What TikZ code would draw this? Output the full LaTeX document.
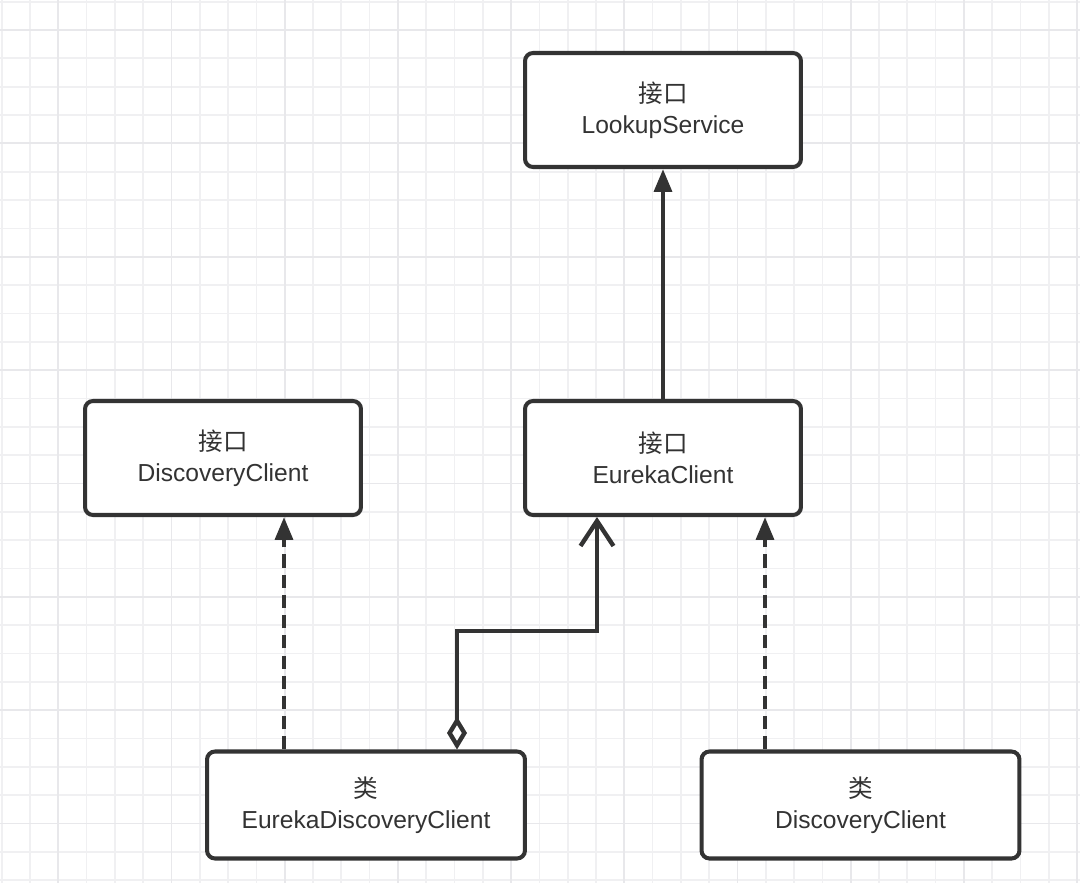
\documentclass[tikz,border=0pt]{standalone}
\usepackage{fontspec}
\setmainfont{Liberation Sans}
\newfontfamily\cjk{Noto Sans CJK SC}
\usepackage{tikz}
\usetikzlibrary{arrows.meta,calc}

\definecolor{umlline}{HTML}{333333}
\definecolor{gridminor}{HTML}{F0F0F2}
\definecolor{gridmajor}{HTML}{E8E8EB}

\begin{document}
\begin{tikzpicture}[x=0.02cm,y=-0.02cm,
    box/.style={draw=umlline,line width=2.3pt,rounded corners=0.16cm,fill=white,
        align=center,inner sep=0pt,text=umlline,font=\fontsize{14}{17.5}\selectfont},
    iface/.style={box,minimum width=5.52cm,minimum height=2.28cm},
    cls/.style={box,minimum width=6.36cm,minimum height=2.14cm},
    umlconn/.style={draw=umlline,line width=2.5pt},
    inheritarrow/.style={umlconn,-{Triangle[length=13pt,width=10pt]}},
    realizearrow/.style={umlconn,dash pattern=on 7.5pt off 4pt,-{Triangle[length=13pt,width=10pt]}},
    aggarrow/.style={umlconn,{Diamond[fill=white,length=0.66cm,width=0.4cm]}-{Straight Barb[length=0.5cm,width=0.66cm]}}]
\useasboundingbox (0,0) rectangle (1080,883);
\fill[white] (0,0) rectangle (1080,883);

% Grid
\foreach \k in {-1,...,37}
    \draw[gridminor,line width=1pt] ({30+28.3*\k},0) -- ++(0,883);
\foreach \k in {-1,...,30}
    \draw[gridminor,line width=1pt] (0,{30+28.34*\k}) -- ++(1080,0);
\foreach \k in {1,5,...,37}
    \draw[gridmajor,line width=1pt] ({30+28.3*\k},0) -- ++(0,883);
\foreach \k in {0,4,...,28}
    \draw[gridmajor,line width=1pt] (0,{30+28.34*\k}) -- ++(1080,0);

% Interfaces
\node[iface] (lookup) at (663,110) {{\cjk 接口}\\LookupService};
\node[iface] (discIface) at (223,458) {{\cjk 接口}\\DiscoveryClient};
\node[iface] (eurekaIface) at (663,458) {{\cjk 接口}\\EurekaClient};

% Classes
\node[cls] (eurekaDisc) at (366,805) {{\cjk 类}\\EurekaDiscoveryClient};
\node[cls] (discClass) at (860.5,805) {{\cjk 类}\\DiscoveryClient};

% Connectors
\coordinate (realA) at (284,0);
\coordinate (realB) at (765,0);
\coordinate (aggA) at (457,631);
\coordinate (aggB) at (597,631);
\draw[inheritarrow] (eurekaIface.north) -- (lookup.south);
\draw[realizearrow] (eurekaDisc.north -| realA) -- (discIface.south -| realA);
\draw[realizearrow] (discClass.north -| realB) -- (eurekaIface.south -| realB);
\draw[aggarrow] (eurekaDisc.north -| aggA) -- (aggA) -- (aggB) -- (eurekaIface.south -| aggB);
\end{tikzpicture}
\end{document}
